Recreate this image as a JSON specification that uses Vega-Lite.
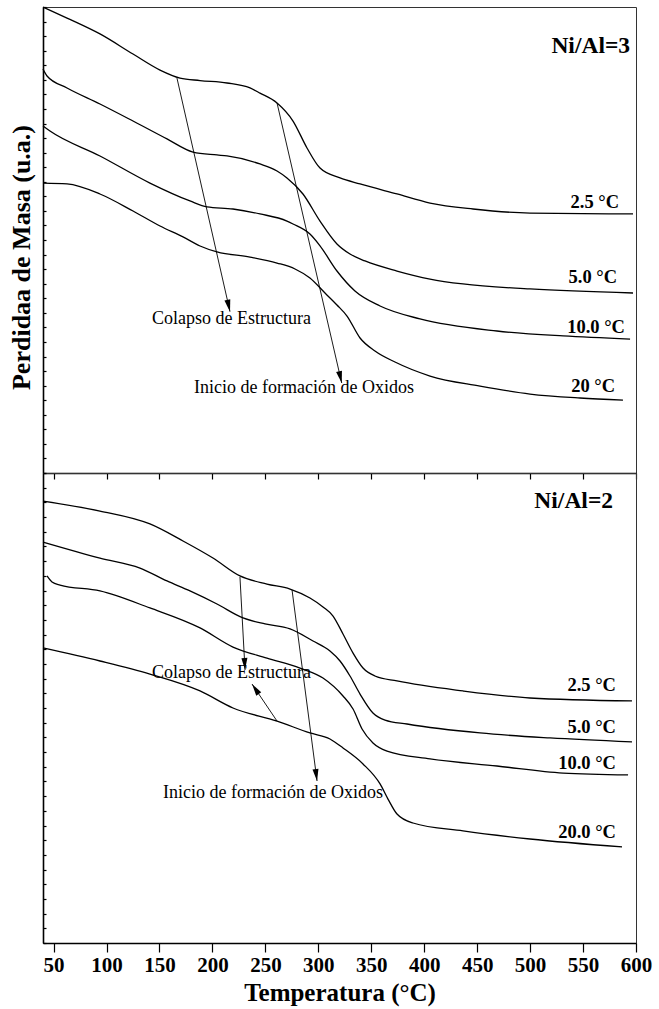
{
  "$schema": "https://vega.github.io/schema/vega-lite/v6.json",
  "background": "white",
  "padding": {"left": 7, "top": 3, "right": 5, "bottom": 4},
  "spacing": 0,
  "bounds": "flush",
  "config": {
    "font": "Liberation Serif",
    "view": {"stroke": "#333", "strokeWidth": 1},
    "axis": {
      "grid": false,
      "domainColor": "#000",
      "domainWidth": 1.6,
      "tickColor": "#000",
      "tickWidth": 1.2,
      "labelFont": "Liberation Serif",
      "labelFontWeight": "bold",
      "labelFontSize": 21,
      "labelColor": "#000",
      "labelFlush": false,
      "labelOverlap": false,
      "titleFont": "Liberation Serif",
      "titleFontWeight": "bold",
      "titleColor": "#000"
    }
  },
  "datasets": {
    "ni3_curvas": [
      {"rate": "2.5", "T": 40.0, "m": 32.0}, {"rate": "2.5", "T": 62.7, "m": 31.24}, {"rate": "2.5", "T": 93.8, "m": 30.15},
      {"rate": "2.5", "T": 125.0, "m": 28.77}, {"rate": "2.5", "T": 150.5, "m": 27.67}, {"rate": "2.5", "T": 169.4, "m": 27.12},
      {"rate": "2.5", "T": 188.3, "m": 26.95}, {"rate": "2.5", "T": 213.8, "m": 26.78}, {"rate": "2.5", "T": 235.5, "m": 26.44},
      {"rate": "2.5", "T": 244.9, "m": 26.09}, {"rate": "2.5", "T": 261.0, "m": 25.41}, {"rate": "2.5", "T": 276.1, "m": 24.17},
      {"rate": "2.5", "T": 289.3, "m": 22.32}, {"rate": "2.5", "T": 301.6, "m": 20.94}, {"rate": "2.5", "T": 320.5, "m": 20.26},
      {"rate": "2.5", "T": 339.4, "m": 19.85}, {"rate": "2.5", "T": 374.3, "m": 19.16}, {"rate": "2.5", "T": 405.5, "m": 18.54},
      {"rate": "2.5", "T": 446.1, "m": 18.13}, {"rate": "2.5", "T": 499.9, "m": 17.85}, {"rate": "2.5", "T": 597.2, "m": 17.79},

      {"rate": "5.0", "T": 40.0, "m": 27.74}, {"rate": "5.0", "T": 43.8, "m": 27.26}, {"rate": "5.0", "T": 62.7, "m": 26.44},
      {"rate": "5.0", "T": 93.8, "m": 25.34}, {"rate": "5.0", "T": 125.0, "m": 24.17}, {"rate": "5.0", "T": 157.1, "m": 22.94},
      {"rate": "5.0", "T": 181.7, "m": 22.04}, {"rate": "5.0", "T": 204.3, "m": 21.84}, {"rate": "5.0", "T": 213.8, "m": 21.77},
      {"rate": "5.0", "T": 244.9, "m": 21.22}, {"rate": "5.0", "T": 261.0, "m": 20.74}, {"rate": "5.0", "T": 270.4, "m": 20.26},
      {"rate": "5.0", "T": 285.5, "m": 19.16}, {"rate": "5.0", "T": 301.6, "m": 17.30}, {"rate": "5.0", "T": 317.6, "m": 15.73},
      {"rate": "5.0", "T": 329.9, "m": 15.04}, {"rate": "5.0", "T": 344.1, "m": 14.56}, {"rate": "5.0", "T": 374.3, "m": 13.87},
      {"rate": "5.0", "T": 405.5, "m": 13.32}, {"rate": "5.0", "T": 436.6, "m": 12.98}, {"rate": "5.0", "T": 499.9, "m": 12.64},
      {"rate": "5.0", "T": 597.2, "m": 12.36},

      {"rate": "10.0", "T": 40.0, "m": 23.83}, {"rate": "10.0", "T": 46.6, "m": 23.48}, {"rate": "10.0", "T": 93.8, "m": 21.77},
      {"rate": "10.0", "T": 141.0, "m": 19.91}, {"rate": "10.0", "T": 178.8, "m": 18.68},
      {"rate": "10.0", "T": 194.9, "m": 18.27}, {"rate": "10.0", "T": 219.4, "m": 18.13}, {"rate": "10.0", "T": 244.9, "m": 17.79},
      {"rate": "10.0", "T": 270.4, "m": 17.30}, {"rate": "10.0", "T": 276.1, "m": 17.10}, {"rate": "10.0", "T": 292.1, "m": 16.41},
      {"rate": "10.0", "T": 301.6, "m": 15.60}, {"rate": "10.0", "T": 317.6, "m": 13.87}, {"rate": "10.0", "T": 334.6, "m": 12.50},
      {"rate": "10.0", "T": 358.3, "m": 11.47}, {"rate": "10.0", "T": 396.0, "m": 10.58}, {"rate": "10.0", "T": 468.7, "m": 9.75},
      {"rate": "10.0", "T": 531.1, "m": 9.41}, {"rate": "10.0", "T": 594.4, "m": 9.20},

      {"rate": "20", "T": 40.0, "m": 19.91}, {"rate": "20", "T": 62.7, "m": 19.85}, {"rate": "20", "T": 93.8, "m": 19.16},
      {"rate": "20", "T": 125.0, "m": 17.99}, {"rate": "20", "T": 150.5, "m": 16.96}, {"rate": "20", "T": 172.2, "m": 16.21},
      {"rate": "20", "T": 188.3, "m": 15.59}, {"rate": "20", "T": 204.3, "m": 15.18}, {"rate": "20", "T": 235.5, "m": 14.83},
      {"rate": "20", "T": 261.0, "m": 14.42}, {"rate": "20", "T": 278.0, "m": 14.01}, {"rate": "20", "T": 292.1, "m": 13.39},
      {"rate": "20", "T": 306.3, "m": 12.36}, {"rate": "20", "T": 317.6, "m": 11.54}, {"rate": "20", "T": 327.1, "m": 10.78},
      {"rate": "20", "T": 339.4, "m": 9.27}, {"rate": "20", "T": 353.5, "m": 8.38}, {"rate": "20", "T": 372.4, "m": 7.62},
      {"rate": "20", "T": 405.5, "m": 6.66}, {"rate": "20", "T": 452.7, "m": 5.97}, {"rate": "20", "T": 499.9, "m": 5.42},
      {"rate": "20", "T": 547.1, "m": 5.15}, {"rate": "20", "T": 587.7, "m": 5.01}
    ],
    "ni3_flechas": [
      {"id": "colapso", "T0": 166.5, "m0": 27.12, "T": 216.6, "m": 11.08},
      {"id": "oxidos", "T0": 261.0, "m0": 25.41, "T": 322.1, "m": 6.18}
    ],
    "ni3_textos": [
      {"tipo": "rampa", "texto": "2.5 °C", "T": 584.0, "m": 18.61},
      {"tipo": "rampa", "texto": "5.0 °C", "T": 582.1, "m": 13.46},
      {"tipo": "rampa", "texto": "10.0 °C", "T": 589.6, "m": 10.03},
      {"tipo": "rampa", "texto": "20 °C", "T": 580.2, "m": 5.97},
      {"tipo": "relacion", "texto": "Ni/Al=3", "T": 594.4, "m": 29.32},
      {"tipo": "nota", "texto": "Colapso de Estructura", "T": 142.9, "m": 10.58},
      {"tipo": "nota", "texto": "Inicio de formación de Oxidos", "T": 182.6, "m": 5.84}
    ],
    "ni2_curvas": [
      {"rate": "2.5", "T": 40.0, "m": 30.09}, {"rate": "2.5", "T": 93.8, "m": 29.41}, {"rate": "2.5", "T": 141.0, "m": 28.53},
      {"rate": "2.5", "T": 172.2, "m": 27.37}, {"rate": "2.5", "T": 200.5, "m": 26.21}, {"rate": "2.5", "T": 226.0, "m": 24.99},
      {"rate": "2.5", "T": 251.5, "m": 24.44}, {"rate": "2.5", "T": 273.3, "m": 24.10}, {"rate": "2.5", "T": 292.1, "m": 23.49},
      {"rate": "2.5", "T": 304.4, "m": 22.88}, {"rate": "2.5", "T": 313.9, "m": 22.26}, {"rate": "2.5", "T": 323.3, "m": 21.04},
      {"rate": "2.5", "T": 332.8, "m": 19.74}, {"rate": "2.5", "T": 342.2, "m": 18.72}, {"rate": "2.5", "T": 353.5, "m": 18.18},
      {"rate": "2.5", "T": 374.3, "m": 17.84}, {"rate": "2.5", "T": 436.6, "m": 17.16}, {"rate": "2.5", "T": 499.9, "m": 16.68},
      {"rate": "2.5", "T": 596.2, "m": 16.48},

      {"rate": "5.0", "T": 40.0, "m": 27.30}, {"rate": "5.0", "T": 93.8, "m": 26.21}, {"rate": "5.0", "T": 131.6, "m": 25.53},
      {"rate": "5.0", "T": 157.1, "m": 24.65}, {"rate": "5.0", "T": 178.8, "m": 23.97}, {"rate": "5.0", "T": 204.3, "m": 23.08},
      {"rate": "5.0", "T": 228.9, "m": 22.13}, {"rate": "5.0", "T": 249.7, "m": 21.72}, {"rate": "5.0", "T": 273.3, "m": 21.38},
      {"rate": "5.0", "T": 295.0, "m": 20.56}, {"rate": "5.0", "T": 311.0, "m": 19.88}, {"rate": "5.0", "T": 320.5, "m": 19.20},
      {"rate": "5.0", "T": 329.9, "m": 18.18}, {"rate": "5.0", "T": 339.4, "m": 16.95}, {"rate": "5.0", "T": 351.6, "m": 15.66},
      {"rate": "5.0", "T": 363.0, "m": 15.18}, {"rate": "5.0", "T": 383.8, "m": 14.91}, {"rate": "5.0", "T": 452.7, "m": 14.30},
      {"rate": "5.0", "T": 518.8, "m": 13.96}, {"rate": "5.0", "T": 596.2, "m": 13.69},

      {"rate": "10.0", "T": 43.8, "m": 24.99}, {"rate": "10.0", "T": 48.5, "m": 24.58}, {"rate": "10.0", "T": 56.1, "m": 24.37},
      {"rate": "10.0", "T": 93.8, "m": 23.97}, {"rate": "10.0", "T": 141.0, "m": 22.81}, {"rate": "10.0", "T": 188.3, "m": 21.45},
      {"rate": "10.0", "T": 219.4, "m": 20.15}, {"rate": "10.0", "T": 251.5, "m": 19.40}, {"rate": "10.0", "T": 282.7, "m": 18.72},
      {"rate": "10.0", "T": 304.4, "m": 18.04}, {"rate": "10.0", "T": 323.3, "m": 16.82}, {"rate": "10.0", "T": 332.8, "m": 15.93},
      {"rate": "10.0", "T": 341.3, "m": 14.57}, {"rate": "10.0", "T": 351.6, "m": 13.62}, {"rate": "10.0", "T": 364.9, "m": 13.07},
      {"rate": "10.0", "T": 405.5, "m": 12.53}, {"rate": "10.0", "T": 468.7, "m": 12.05}, {"rate": "10.0", "T": 531.1, "m": 11.57},
      {"rate": "10.0", "T": 592.5, "m": 11.44},

      {"rate": "20.0", "T": 40.0, "m": 20.09}, {"rate": "20.0", "T": 93.8, "m": 19.20}, {"rate": "20.0", "T": 141.0, "m": 18.31},
      {"rate": "20.0", "T": 188.3, "m": 17.16}, {"rate": "20.0", "T": 219.4, "m": 16.00}, {"rate": "20.0", "T": 261.0, "m": 15.11},
      {"rate": "20.0", "T": 292.1, "m": 14.30}, {"rate": "20.0", "T": 311.0, "m": 13.89}, {"rate": "20.0", "T": 323.3, "m": 13.28},
      {"rate": "20.0", "T": 342.2, "m": 12.19}, {"rate": "20.0", "T": 358.3, "m": 10.83}, {"rate": "20.0", "T": 365.8, "m": 9.80},
      {"rate": "20.0", "T": 374.3, "m": 8.78}, {"rate": "20.0", "T": 389.4, "m": 8.17}, {"rate": "20.0", "T": 436.6, "m": 7.63},
      {"rate": "20.0", "T": 499.9, "m": 7.08}, {"rate": "20.0", "T": 586.8, "m": 6.54}
    ],
    "ni2_flechas": [
      {"id": "colapso", "T0": 226.0, "m0": 24.92, "T": 230.8, "m": 18.59},
      {"id": "oxidos", "T0": 275.2, "m0": 24.03, "T": 298.8, "m": 11.03},
      {"id": "colapso_20", "T0": 261.0, "m0": 15.11, "T": 237.4, "m": 17.63}
    ],
    "ni2_textos": [
      {"tipo": "rampa", "texto": "2.5 °C", "T": 581.1, "m": 17.57},
      {"tipo": "rampa", "texto": "5.0 °C", "T": 581.1, "m": 14.71},
      {"tipo": "rampa", "texto": "10.0 °C", "T": 581.1, "m": 12.26},
      {"tipo": "rampa", "texto": "20.0 °C", "T": 581.1, "m": 7.56},
      {"tipo": "relacion", "texto": "Ni/Al=2", "T": 578.3, "m": 30.09},
      {"tipo": "nota", "texto": "Colapso de Estructura", "T": 142.9, "m": 18.38},
      {"tipo": "nota", "texto": "Inicio de formación de Oxidos", "T": 153.3, "m": 10.21}
    ]
  },
  "vconcat": [
    {
      "width": 593,
      "height": 466,
      "encoding": {
        "x": {
          "field": "T", "type": "quantitative",
          "scale": {"domain": [40, 600], "nice": false, "zero": false},
          "axis": {"values": [50, 100, 150, 200, 250, 300, 350, 400, 450, 500, 550, 600], "labels": false, "tickSize": 6, "title": null}
        },
        "y": {
          "field": "m", "type": "quantitative",
          "scale": {"domain": [0, 32], "nice": false},
          "axis": {
            "values": [0, 1, 2, 3, 4, 5, 6, 7, 8, 9, 10, 11, 12, 13, 14, 15, 16, 17, 18, 19, 20, 21, 22, 23, 24, 25, 26, 27, 28, 29, 30, 31, 32],
            "labels": false, "tickSize": -3,
            "title": "Perdidaa de Masa (u.a.)", "titleFontSize": 26, "titlePadding": 8, "titleY": 250
          }
        }
      },
      "layer": [
        {
          "data": {"name": "ni3_curvas"},
          "mark": {"type": "line", "color": "#000", "strokeWidth": 1.3, "interpolate": "monotone"},
          "encoding": {"detail": {"field": "rate", "type": "nominal"}}
        },
        {
          "data": {"name": "ni3_flechas"},
          "mark": {"type": "rule", "color": "#000", "strokeWidth": 0.9},
          "encoding": {"x2": {"field": "T0"}, "y2": {"field": "m0"}}
        },
        {
          "data": {"name": "ni3_flechas"},
          "transform": [{"filter": "datum.id === 'colapso'"}],
          "mark": {"type": "point", "shape": "M0,0L-0.5,-2L0.5,-2Z", "filled": true, "color": "#000", "opacity": 1, "size": 144, "angle": -12.8},
          "encoding": {}
        },
        {
          "data": {"name": "ni3_flechas"},
          "transform": [{"filter": "datum.id === 'oxidos'"}],
          "mark": {"type": "point", "shape": "M0,0L-0.5,-2L0.5,-2Z", "filled": true, "color": "#000", "opacity": 1, "size": 144, "angle": -13},
          "encoding": {}
        },
        {
          "data": {"name": "ni3_textos"},
          "transform": [{"filter": "datum.tipo === 'rampa'"}],
          "mark": {"type": "text", "align": "right", "baseline": "middle", "fontWeight": "bold", "fontSize": 18.5, "color": "#000"},
          "encoding": {"text": {"field": "texto"}}
        },
        {
          "data": {"name": "ni3_textos"},
          "transform": [{"filter": "datum.tipo === 'relacion'"}],
          "mark": {"type": "text", "align": "right", "baseline": "middle", "fontWeight": "bold", "fontSize": 23.5, "color": "#000"},
          "encoding": {"text": {"field": "texto"}}
        },
        {
          "data": {"name": "ni3_textos"},
          "transform": [{"filter": "datum.tipo === 'nota'"}],
          "mark": {"type": "text", "align": "left", "baseline": "middle", "fontSize": 18, "color": "#000"},
          "encoding": {"text": {"field": "texto"}}
        }
      ]
    },
    {
      "width": 593,
      "height": 470,
      "encoding": {
        "x": {
          "field": "T", "type": "quantitative",
          "scale": {"domain": [40, 600], "nice": false, "zero": false},
          "axis": {
            "values": [50, 100, 150, 200, 250, 300, 350, 400, 450, 500, 550, 600],
            "tickSize": 9, "labelPadding": 2,
            "title": "Temperatura (°C)", "titleFontSize": 25, "titlePadding": 5
          }
        },
        "y": {
          "field": "m", "type": "quantitative",
          "scale": {"domain": [0, 32], "nice": false},
          "axis": {
            "values": [0, 1, 2, 3, 4, 5, 6, 7, 8, 9, 10, 11, 12, 13, 14, 15, 16, 17, 18, 19, 20, 21, 22, 23, 24, 25, 26, 27, 28, 29, 30, 31, 32],
            "labels": false, "tickSize": -3, "title": null
          }
        }
      },
      "layer": [
        {
          "data": {"name": "ni2_curvas"},
          "mark": {"type": "line", "color": "#000", "strokeWidth": 1.3, "interpolate": "monotone"},
          "encoding": {"detail": {"field": "rate", "type": "nominal"}}
        },
        {
          "data": {"name": "ni2_flechas"},
          "mark": {"type": "rule", "color": "#000", "strokeWidth": 0.9},
          "encoding": {"x2": {"field": "T0"}, "y2": {"field": "m0"}}
        },
        {
          "data": {"name": "ni2_flechas"},
          "transform": [{"filter": "datum.id === 'colapso'"}],
          "mark": {"type": "point", "shape": "M0,0L-0.5,-2L0.5,-2Z", "filled": true, "color": "#000", "opacity": 1, "size": 144, "angle": -3},
          "encoding": {}
        },
        {
          "data": {"name": "ni2_flechas"},
          "transform": [{"filter": "datum.id === 'oxidos'"}],
          "mark": {"type": "point", "shape": "M0,0L-0.5,-2L0.5,-2Z", "filled": true, "color": "#000", "opacity": 1, "size": 144, "angle": -7.5},
          "encoding": {}
        },
        {
          "data": {"name": "ni2_flechas"},
          "transform": [{"filter": "datum.id === 'colapso_20'"}],
          "mark": {"type": "point", "shape": "M0,0L-0.5,-2L0.5,-2Z", "filled": true, "color": "#000", "opacity": 1, "size": 144, "angle": 146},
          "encoding": {}
        },
        {
          "data": {"name": "ni2_textos"},
          "transform": [{"filter": "datum.tipo === 'rampa'"}],
          "mark": {"type": "text", "align": "right", "baseline": "middle", "fontWeight": "bold", "fontSize": 18.5, "color": "#000"},
          "encoding": {"text": {"field": "texto"}}
        },
        {
          "data": {"name": "ni2_textos"},
          "transform": [{"filter": "datum.tipo === 'relacion'"}],
          "mark": {"type": "text", "align": "right", "baseline": "middle", "fontWeight": "bold", "fontSize": 23.5, "color": "#000"},
          "encoding": {"text": {"field": "texto"}}
        },
        {
          "data": {"name": "ni2_textos"},
          "transform": [{"filter": "datum.tipo === 'nota'"}],
          "mark": {"type": "text", "align": "left", "baseline": "middle", "fontSize": 18, "color": "#000"},
          "encoding": {"text": {"field": "texto"}}
        }
      ]
    }
  ]
}
